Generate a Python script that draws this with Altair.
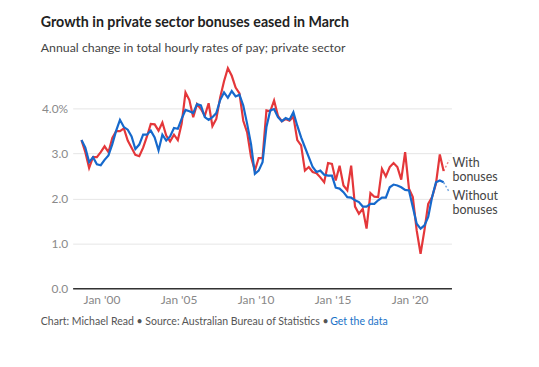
import altair as alt
import pandas as pd

# Annual change in total hourly rates of pay, private sector (quarterly, Sep 1998 - Mar 2022)
with_bonuses = [
    3.30, 3.03, 2.68, 2.92, 2.92, 3.03, 3.16, 3.03, 3.35, 3.50,
    3.50, 3.56, 3.29, 3.13, 2.97, 2.94, 3.13, 3.38, 3.66, 3.65,
    3.51, 3.69, 3.40, 3.27, 3.42, 3.30, 3.66, 4.36, 4.19, 3.81,
    4.10, 3.99, 3.84, 4.12, 3.61, 3.77, 4.25, 4.61, 4.90, 4.73,
    4.47, 4.34, 3.73, 3.47, 2.92, 2.62, 2.90, 2.90, 3.96, 3.94,
    4.18, 3.84, 3.72, 3.77, 3.73, 3.82, 3.30, 3.18, 2.62, 2.70,
    2.59, 2.56, 2.47, 2.36, 2.79, 2.77, 2.40, 2.73, 2.29, 2.18,
    2.73, 1.82, 1.66, 1.77, 1.33, 2.12, 2.04, 2.03, 2.66, 2.49,
    2.70, 2.79, 2.70, 2.42, 3.03, 2.22, 2.03, 1.29, 0.77, 1.29,
    1.88, 2.03, 2.33, 2.98, 2.61,
]
without_bonuses = [
    3.30, 3.13, 2.81, 2.92, 2.76, 2.74, 2.86, 2.96, 3.21, 3.51,
    3.75, 3.59, 3.53, 3.38, 3.10, 3.20, 3.42, 3.42, 3.51, 3.36,
    3.07, 3.42, 3.29, 3.38, 3.57, 3.55, 3.77, 3.97, 3.94, 3.90,
    4.10, 4.07, 3.81, 3.75, 3.81, 3.90, 4.19, 4.36, 4.24, 4.39,
    4.27, 4.31, 4.07, 3.66, 3.21, 2.55, 2.62, 2.81, 3.59, 3.96,
    3.99, 3.81, 3.72, 3.79, 3.75, 3.92, 3.62, 3.36, 3.14, 2.92,
    2.70, 2.59, 2.62, 2.53, 2.51, 2.51, 2.24, 2.22, 2.14, 2.03,
    2.02, 1.96, 1.92, 1.82, 1.82, 1.88, 1.88, 1.96, 2.02, 2.02,
    2.25, 2.31, 2.29, 2.25, 2.19, 2.18, 1.81, 1.44, 1.33, 1.40,
    1.59, 2.03, 2.36, 2.40, 2.36,
]
series_names = ["With bonuses", "Without bonuses"]
tick_years = [2000, 2005, 2010, 2015, 2020]
y_ticks = [0, 1, 2, 3, 4]

dates = pd.date_range("1998-09-01", periods=len(with_bonuses), freq="3MS") + pd.Timedelta(days=14)
n = len(dates)
df = pd.DataFrame({
    "date": list(dates) * 2,
    "value": with_bonuses + without_bonuses,
    "series": [series_names[0]] * n + [series_names[1]] * n,
})

RED = "#e4373a"
BLUE = "#1669cc"
FONT = "Lato"
W, H = 381, 226

x_scale = alt.Scale(domain=[alt.DateTime(year=1998, month=2, date=17),
                            alt.DateTime(year=2022, month=9, date=17)])
color_scale = alt.Scale(domain=series_names, range=[RED, BLUE])

base = alt.Chart(df).encode(
    x=alt.X("date:T", scale=x_scale, title=None,
            axis=alt.Axis(values=[alt.DateTime(year=y, month=1, date=1) for y in tick_years],
                          labelExpr="'Jan \\'' + timeFormat(datum.value, '%y')",
                          ticks=False, grid=False, domainColor="#333333", domainWidth=1.5,
                          labelColor="#888888", labelFontSize=12, labelPadding=6,
                          labelFont=FONT)),
    y=alt.Y("value:Q", scale=alt.Scale(domain=[0, 5]), title=None,
            axis=alt.Axis(values=y_ticks,
                          labelExpr="datum.value == 4 ? '4.0%' : format(datum.value, '.1f')",
                          ticks=False, domain=False, gridColor="#e6e6e6", gridWidth=1,
                          labelColor="#8a8a8a", labelFontSize=12, labelPadding=5,
                          labelFont=FONT)),
    color=alt.Color("series:N", scale=color_scale, legend=None),
)
lines = base.mark_line(strokeWidth=2.2)

last = pd.DataFrame({"date": [dates[-1]], "with": [with_bonuses[-1]], "without": [without_bonuses[-1]]})
conn_red = alt.Chart(last).mark_rule(strokeDash=[2, 2], strokeWidth=1.5, color=RED, opacity=0.6).encode(
    x="date:T", y="with:Q", x2=alt.value(378.7), y2=alt.value(97))
conn_blue = alt.Chart(last).mark_rule(strokeDash=[2, 2], strokeWidth=1.5, color=BLUE, opacity=0.6).encode(
    x="date:T", y="without:Q", x2=alt.value(378.7), y2=alt.value(129))

def text_layer(txt, x, y, size, color, weight="normal"):
    return alt.Chart(pd.DataFrame({"t": [txt]})).mark_text(
        align="left", baseline="alphabetic", font=FONT, fontSize=size, color=color,
        fontWeight=weight, lineBreak="\n", lineHeight=14.5,
    ).encode(text="t:N", x=alt.value(x), y=alt.value(y))

lab_with = text_layer("With\nbonuses", 382, 104, 12.5, "#444444")
lab_without = text_layer("Without\nbonuses", 382, 137, 12.5, "#444444")
title = text_layer("Growth in private sector bonuses eased in March", -32, -37, 14.3, "#222222", "bold")
subtitle = text_layer("Annual change in total hourly rates of pay; private sector", -32, -12, 12.4, "#444444")
footer = text_layer("Chart: Michael Read \u2022 Source: Australian Bureau of Statistics \u2022", -32, 263, 10.6, "#555555")
footer_link = text_layer("Get the data", 259, 263, 10.6, "#1a73c8")

chart = alt.layer(
    lines, conn_red, conn_blue, lab_with, lab_without, title, subtitle, footer, footer_link
).properties(
    width=W, height=H,
    autosize=alt.AutoSizeParams(type="none"),
    padding={"left": 65, "top": 55, "right": 80, "bottom": 60},
).configure_view(stroke=None)

chart.save("out.html", embed_options={"renderer": "svg", "actions": False})
